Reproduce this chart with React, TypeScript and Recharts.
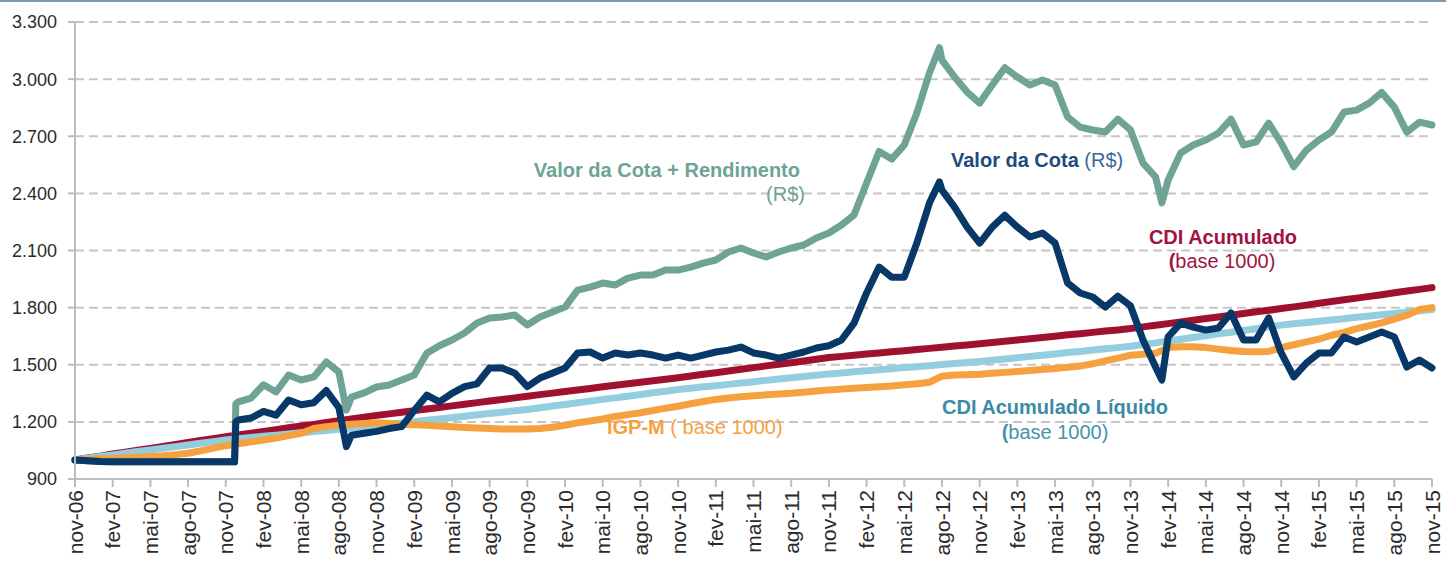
import { CartesianGrid, Line, LineChart, XAxis, YAxis } from 'recharts';

// month offsets from nov-06 (0) to nov-15 (108)
const months = Array.from({ length: 109 }, (_, i) => i);

const xTickLabels = [
  'nov-06', 'fev-07', 'mai-07', 'ago-07', 'nov-07', 'fev-08', 'mai-08', 'ago-08', 'nov-08', 'fev-09',
  'mai-09', 'ago-09', 'nov-09', 'fev-10', 'mai-10', 'ago-10', 'nov-10', 'fev-11', 'mai-11', 'ago-11',
  'nov-11', 'fev-12', 'mai-12', 'ago-12', 'nov-12', 'fev-13', 'mai-13', 'ago-13', 'nov-13', 'fev-14',
  'mai-14', 'ago-14', 'nov-14', 'fev-15', 'mai-15', 'ago-15', 'nov-15',
];
const xTicks = xTickLabels.map((_, i) => i * 3);

const yTicks = [900, 1200, 1500, 1800, 2100, 2400, 2700, 3000, 3300];
const yTickLabels = ['900', '1.200', '1.500', '1.800', '2.100', '2.400', '2.700', '3.000', '3.300'];

// the two fund series share a time base with a few extra points at jumps / extremes
const cotaT = [
  0, 1, 2, 3, 4, 5, 6, 7, 8, 9, 10, 11,
  12, 12.7, 12.8, 13, 14, 15, 16, 17, 18, 19, 20, 21,
  21.6, 22, 23, 24, 25, 26, 27, 28, 29, 30, 31, 32,
  33, 34, 35, 36, 37, 38, 39, 40, 41, 42, 43, 44,
  45, 46, 47, 48, 49, 50, 51, 52, 53, 54, 55, 56,
  57, 58, 59, 60, 61, 62, 63, 64, 65, 66, 67, 68,
  68.8, 69, 70, 71, 72, 73, 74, 75, 76, 77, 78, 79,
  80, 81, 82, 83, 84, 85, 86, 86.5, 87, 88, 89, 90,
  91, 92, 93, 94, 95, 96, 97, 98, 99, 100, 101, 102,
  103, 104, 105, 106, 107, 108,
];

const valorCota = [
  1000, 996, 992, 990, 990, 990, 990, 990, 990, 990, 990, 990,
  990, 990, 1200, 1210, 1220, 1255, 1235, 1315, 1290, 1300, 1365, 1275,
  1070, 1130, 1140, 1150, 1165, 1175, 1260, 1340, 1305, 1350, 1385, 1400,
  1483, 1483, 1456, 1385, 1430, 1456, 1483, 1562, 1567, 1535, 1562, 1551,
  1562, 1551, 1535, 1551, 1535, 1551, 1567, 1577, 1593, 1562, 1551, 1535,
  1551, 1567, 1588, 1600, 1630, 1719, 1877, 2013, 1960, 1960, 2139, 2349,
  2460, 2417, 2328, 2223, 2139, 2223, 2285, 2223, 2171, 2192, 2139, 1929,
  1877, 1856, 1803, 1860, 1810, 1630, 1488, 1420, 1646, 1719, 1698, 1682,
  1693, 1772, 1630, 1630, 1746, 1562, 1436, 1509, 1562, 1562, 1646, 1620,
  1646, 1672, 1646, 1488, 1525, 1483,
];

const valorCotaRend = [
  1000, 996, 992, 990, 990, 990, 990, 990, 990, 990, 990, 990,
  990, 990, 1295, 1305, 1325, 1395, 1357, 1446, 1420, 1436, 1515, 1462,
  1262, 1330, 1352, 1383, 1394, 1420, 1446, 1560, 1600, 1630, 1667, 1719,
  1745, 1751, 1761, 1709, 1751, 1777, 1803, 1892, 1908, 1929, 1919, 1955,
  1971, 1971, 1997, 1997, 2013, 2034, 2050, 2092, 2113, 2087, 2066, 2092,
  2113, 2129, 2166, 2192, 2234, 2286, 2454, 2620, 2580, 2654, 2822, 3032,
  3165, 3100, 3011, 2932, 2874, 2969, 3060, 3011, 2969, 2995, 2969, 2801,
  2748, 2733, 2722, 2790, 2733, 2559, 2486, 2350, 2470, 2612, 2654, 2680,
  2717, 2790, 2654, 2670, 2769, 2664, 2540, 2627, 2680, 2722, 2827, 2837,
  2874, 2930, 2853, 2722, 2774, 2759,
];

const cdi = [
  1000, 1010, 1020, 1031, 1041, 1051, 1061, 1071, 1081, 1092, 1102, 1112,
  1122, 1131, 1141, 1150, 1159, 1169, 1178, 1187, 1197, 1206, 1215, 1225,
  1234, 1242, 1251, 1259, 1268, 1276, 1284, 1293, 1301, 1310, 1318, 1326,
  1335, 1343, 1351, 1359, 1367, 1375, 1384, 1392, 1400, 1408, 1416, 1424,
  1432, 1441, 1450, 1458, 1467, 1476, 1485, 1494, 1503, 1511, 1520, 1529,
  1538, 1544, 1550, 1556, 1562, 1568, 1574, 1580, 1586, 1592, 1598, 1604,
  1610, 1617, 1623, 1630, 1637, 1643, 1650, 1657, 1663, 1670, 1677, 1683,
  1690, 1699, 1707, 1716, 1725, 1734, 1743, 1751, 1760, 1769, 1778, 1786,
  1795, 1804, 1813, 1823, 1832, 1841, 1850, 1859, 1868, 1878, 1887, 1896,
  1905,
];

const cdiLiquido = [
  1000, 1009, 1018, 1026, 1035, 1044, 1053, 1061, 1070, 1079, 1088, 1096,
  1105, 1111, 1118, 1124, 1130, 1136, 1143, 1149, 1155, 1161, 1168, 1174,
  1180, 1187, 1194, 1201, 1208, 1215, 1222, 1230, 1237, 1244, 1251, 1258,
  1265, 1274, 1283, 1291, 1300, 1309, 1318, 1326, 1335, 1344, 1353, 1361,
  1370, 1377, 1384, 1390, 1397, 1404, 1411, 1418, 1425, 1432, 1438, 1445,
  1452, 1457, 1463, 1468, 1474, 1479, 1485, 1490, 1495, 1501, 1506, 1512,
  1517, 1524, 1530, 1537, 1544, 1550, 1557, 1564, 1570, 1577, 1584, 1590,
  1597, 1606, 1615, 1625, 1634, 1643, 1652, 1662, 1671, 1680, 1689, 1699,
  1708, 1715, 1722, 1728, 1735, 1742, 1749, 1756, 1763, 1769, 1776, 1783,
  1790,
];

const igpm = [
  1000, 1003, 1006, 1008, 1011, 1014, 1018, 1022, 1028, 1035, 1048, 1062,
  1075, 1085, 1095, 1105, 1115, 1128, 1140, 1165, 1175, 1182, 1188, 1192,
  1195, 1192, 1188, 1185, 1182, 1178, 1175, 1171, 1168, 1165, 1163, 1162,
  1162, 1165, 1172, 1182, 1195, 1205, 1215, 1228, 1238, 1248, 1260, 1272,
  1282, 1295, 1307, 1318, 1325, 1332, 1337, 1342, 1346, 1350, 1356, 1362,
  1368, 1372, 1376, 1380, 1384, 1389, 1395, 1400, 1408, 1440, 1446, 1448,
  1450, 1455, 1460, 1465, 1470, 1475, 1480, 1487, 1493, 1505, 1520, 1535,
  1550, 1555, 1560, 1590, 1594, 1594, 1590, 1582, 1575, 1570, 1568, 1570,
  1590, 1605, 1620, 1635, 1655, 1670, 1690, 1705, 1720, 1740, 1760, 1790,
  1800,
];

const rows = (ts: number[], vs: number[]) => ts.map((t, i) => ({ t, v: vs[i] }));

const FONT = '"Liberation Sans", Arial, Helvetica, sans-serif';
const AXIS = '#bdbdbd';
const LINE_W = 7;

const XTick = ({ x, y, payload }: any) => (
  <text
    x={0}
    y={0}
    transform={`translate(${x},${y}) rotate(-90)`}
    textAnchor="end"
    dy="0.36em"
    fontSize={21}
    fill="#2b2b2b"
    fontFamily={FONT}
  >
    {xTickLabels[Math.round(payload.value / 3)]}
  </text>
);

const lineStyle = { strokeWidth: LINE_W, strokeLinejoin: 'round' as const, strokeLinecap: 'round' as const };

export default function App() {
  return (
    <div style={{ position: 'absolute', left: 0, top: 0, width: 1446, height: 561, background: '#fff', fontFamily: FONT }}>
      <div style={{ position: 'absolute', left: 0, top: 0, width: 1446, height: 2, background: '#7f9bb3' }} />
      <LineChart width={1446} height={561} margin={{ top: 22, right: 14, bottom: 0, left: 0 }}>
        <CartesianGrid vertical={false} stroke="#c6c6c6" strokeDasharray="9 5" strokeWidth={2} />
        <XAxis
          type="number"
          dataKey="t"
          domain={[0, 108]}
          ticks={xTicks}
          interval={0}
          height={82}
          tickSize={8}
          tickMargin={3}
          stroke={AXIS}
          strokeWidth={2}
          tickLine={{ stroke: AXIS, strokeWidth: 2 }}
          tick={<XTick />}
        />
        <YAxis
          type="number"
          domain={[900, 3300]}
          ticks={yTicks}
          interval={0}
          width={75}
          tickSize={7}
          tickMargin={11}
          stroke={AXIS}
          strokeWidth={2}
          tickLine={{ stroke: AXIS, strokeWidth: 2 }}
          tick={{ fontSize: 18, fill: '#2b2b2b', fontFamily: FONT }}
          tickFormatter={(v: number) => yTickLabels[yTicks.indexOf(v)]}
        />
        <Line data={rows(months, cdi)} dataKey="v" name="CDI Acumulado" type="linear" stroke="#a0112f" strokeWidth={LINE_W} style={lineStyle} dot={false} isAnimationActive={false} />
        <Line data={rows(months, cdiLiquido)} dataKey="v" name="CDI Acumulado Líquido" type="linear" stroke="#93cde0" strokeWidth={LINE_W} style={lineStyle} dot={false} isAnimationActive={false} />
        <Line data={rows(months, igpm)} dataKey="v" name="IGP-M" type="linear" stroke="#f5a140" strokeWidth={LINE_W} style={lineStyle} dot={false} isAnimationActive={false} />
        <Line data={rows(cotaT, valorCotaRend)} dataKey="v" name="Valor da Cota + Rendimento" type="linear" stroke="#6ea396" strokeWidth={LINE_W} style={lineStyle} dot={false} isAnimationActive={false} />
        <Line data={rows(cotaT, valorCota)} dataKey="v" name="Valor da Cota" type="linear" stroke="#073868" strokeWidth={LINE_W} style={lineStyle} dot={false} isAnimationActive={false} />
      </LineChart>
      <svg width={1446} height={561} style={{ position: 'absolute', left: 0, top: 0, pointerEvents: 'none' }} fontFamily={FONT} fontSize={20}>
        <text x={800} y={177} textAnchor="end" fill="#6ea396" fontWeight="bold">Valor da Cota + Rendimento</text>
        <text x={805} y={201} textAnchor="end" fill="#6ea396">(R$)</text>
        <text x={951} y={167} fill="#1f4a7c">
          <tspan fontWeight="bold">Valor da Cota</tspan>
          <tspan fill="#3d6799"> (R$)</tspan>
        </text>
        <text x={1223} y={244} textAnchor="middle" fill="#a0153e" fontWeight="bold">CDI Acumulado</text>
        <text x={1222} y={268} textAnchor="middle" fill="#a0153e">
          <tspan fontWeight="bold">(</tspan>base 1000)
        </text>
        <text x={1055} y={414} textAnchor="middle" fill="#3a8ba5" fontWeight="bold">CDI Acumulado Líquido</text>
        <text x={1055} y={439} textAnchor="middle" fill="#4693ad">
          <tspan fontWeight="bold">(</tspan>base 1000)
        </text>
        <text x={607} y={434} fill="#f5a140">
          <tspan fontWeight="bold">IGP-M</tspan> ( base 1000)
        </text>
      </svg>
    </div>
  );
}
